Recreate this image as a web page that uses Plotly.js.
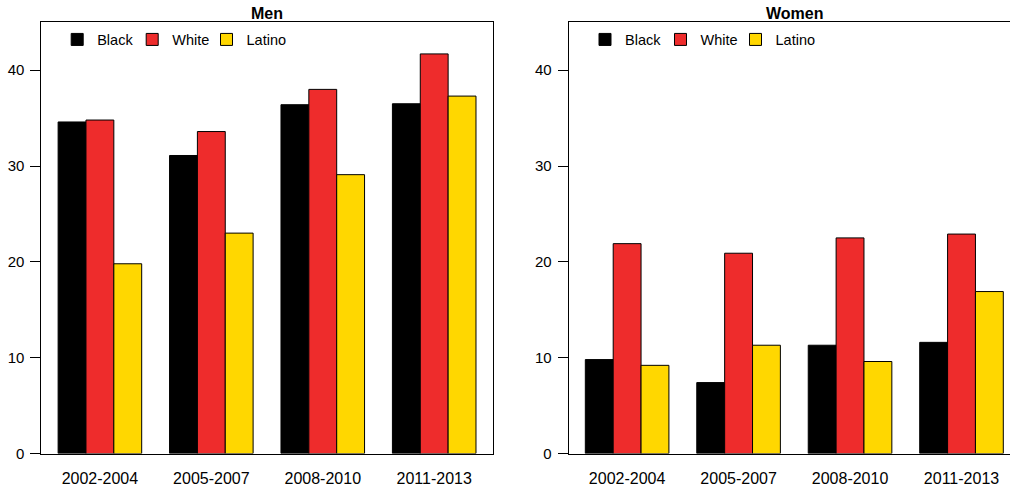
<!DOCTYPE html>
<html>
<head>
<meta charset="utf-8">
<script src="https://cdn.plot.ly/plotly-3.0.1.min.js"></script>
<style>html,body{margin:0;padding:0;background:#fff;}#chart{width:1010px;height:489px;}</style>
</head>
<body>
<div id="chart"></div>
<script>
var categories = ['2002-2004', '2005-2007', '2008-2010', '2011-2013'];
var seriesNames = ['Black', 'White', 'Latino'];
var menBlack = [34.6, 31.1, 36.4, 36.5];
var menWhite = [34.8, 33.6, 38.0, 41.7];
var menLatino = [19.8, 23.0, 29.1, 37.3];
var womenBlack = [9.8, 7.4, 11.3, 11.6];
var womenWhite = [21.9, 20.9, 22.5, 22.9];
var womenLatino = [9.2, 11.3, 9.6, 16.9];
var yTicks = [0, 10, 20, 30, 40];
var panelTitles = ['Men', 'Women'];

var colors = ['#000000', '#EE2C2C', '#FFD700'];
var FONT = 'Liberation Sans, Arial, sans-serif';

function mk(y, i, xa, ya, leg) {
  return {
    type: 'bar', x: categories, y: y, name: seriesNames[i],
    xaxis: xa, yaxis: ya, legend: leg,
    marker: {color: colors[i], line: {color: '#000000', width: 1}},
    hoverinfo: 'skip'
  };
}
var data = [
  mk(menBlack, 0, 'x', 'y', 'legend'),
  mk(menWhite, 1, 'x', 'y', 'legend2'),
  mk(menLatino, 2, 'x', 'y', 'legend3'),
  mk(womenBlack, 0, 'x2', 'y2', 'legend4'),
  mk(womenWhite, 1, 'x2', 'y2', 'legend5'),
  mk(womenLatino, 2, 'x2', 'y2', 'legend6')
];

var W = 1010, H = 489;
var yDom = [(H - 453.5) / H, (H - 22.3) / H];
function xax(dom, rng) {
  return {
    domain: dom, range: rng, type: 'category',
    showline: true, mirror: true, linecolor: '#000', linewidth: 1,
    showgrid: false, zeroline: false, ticks: '', ticklabelstandoff: 10,
    tickfont: {family: FONT, size: 16, color: '#000'}, fixedrange: true
  };
}
function yax(anchor, mirror) {
  return {
    domain: yDom, range: [0, 45], anchor: anchor,
    showline: true, mirror: mirror, linecolor: '#000', linewidth: 1,
    showgrid: false, zeroline: false, tickvals: yTicks,
    ticks: 'outside', ticklen: 10, tickcolor: '#000', tickwidth: 1,
    ticklabelstandoff: 3,
    tickfont: {family: FONT, size: 15, color: '#000'}, fixedrange: true
  };
}
function leg(xpx) {
  return {
    orientation: 'h', x: xpx / W, xanchor: 'left', y: 1 - 23.5 / H, yanchor: 'top',
    bgcolor: 'rgba(0,0,0,0)', borderwidth: 0,
    font: {family: FONT, size: 14.5, color: '#000'}
  };
}

var layout = {
  width: W, height: H,
  margin: {l: 0, r: 0, t: 0, b: 0},
  paper_bgcolor: '#fff', plot_bgcolor: '#fff',
  barmode: 'group', bargap: 0.25, bargroupgap: 0,
  showlegend: true,
  xaxis: xax([41.4 / W, 492.7 / W], [-0.525, 3.525]),
  yaxis: yax('x', true),
  xaxis2: xax([568.6 / W, 1], [-0.525, 3.435]),
  yaxis2: yax('x2', false),
  legend: leg(57.2),
  legend2: leg(132.2),
  legend3: leg(206.5),
  legend4: leg(585),
  legend5: leg(660.5),
  legend6: leg(735.5),
  annotations: [
    {text: '<b>' + panelTitles[0] + '</b>', xref: 'paper', yref: 'paper',
     x: (41.4 + 492.7) / 2 / W, y: 1 - 13 / H, xanchor: 'center', yanchor: 'middle',
     showarrow: false, font: {family: FONT, size: 16, color: '#000'}},
    {text: '<b>' + panelTitles[1] + '</b>', xref: 'paper', yref: 'paper',
     x: (568.6 + 1020) / 2 / W, y: 1 - 13 / H, xanchor: 'center', yanchor: 'middle',
     showarrow: false, font: {family: FONT, size: 16, color: '#000'}}
  ]
};

Plotly.newPlot('chart', data, layout, {displayModeBar: false, staticPlot: true});
</script>
</body>
</html>
